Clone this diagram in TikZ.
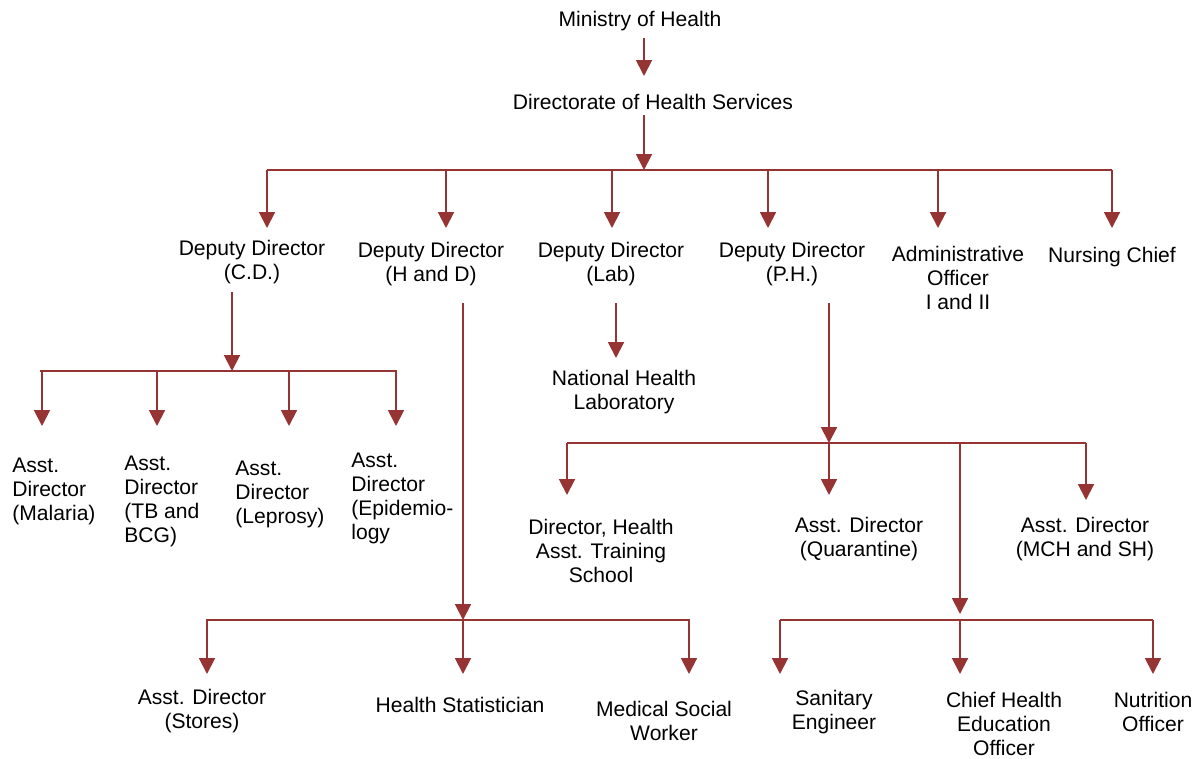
\documentclass[tikz,border=0pt]{standalone}
\usepackage{fontspec}
\setmainfont{Liberation Sans}
\usetikzlibrary{arrows.meta}
\definecolor{lnc}{RGB}{150,52,52}
\begin{document}
\begin{tikzpicture}[x=0.02cm,y=-0.02cm,
  lbl/.style={inner sep=0pt,align=center,yshift=-1.3pt,font=\fontsize{12}{13.6}\selectfont},
  lbll/.style={lbl,align=left,anchor=west},
  ln/.style={draw=lnc,line width=1.1pt},
  arr/.style={ln,-{Triangle[width=9pt,length=9pt]}}]
\useasboundingbox (0,0) rectangle (1200,758);

% nodes
\node[lbl] (moh) at (640,19) {Ministry of Health};
\node[lbl] (dhs) at (653,100) {Directorate of Health Services};
\node[lbl] (ddcd) at (252,260) {Deputy Director\\(C.D.)};
\node[lbl] (ddhd) at (431,262) {Deputy Director\\(H and D)};
\node[lbl] (ddlab) at (611,262) {Deputy Director\\(Lab)};
\node[lbl] (ddph) at (792,262) {Deputy Director\\(P.H.)};
\node[lbl] (adm) at (958,276) {Administrative\\Officer\\I and II};
\node[lbl] (nc) at (1112,255) {Nursing Chief};
\node[lbll] (mal) at (12,489) {Asst.\\Director\\(Malaria)};
\node[lbll] (tb) at (124,499) {Asst.\\Director\\(TB and\\BCG)};
\node[lbll] (lep) at (235,492) {Asst.\\Director\\(Leprosy)};
\node[lbll] (epi) at (351,496) {Asst.\\Director\\(Epidemio-\\logy};
\node[lbl] (nhl) at (624,390) {National Health\\Laboratory};
\node[lbl] (hat) at (601,549) {Director, Health\\Asst. Training\\School};
\node[lbl] (quar) at (859,537) {Asst. Director\\(Quarantine)};
\node[lbl] (mch) at (1085,537) {Asst. Director\\(MCH and SH)};
\node[lbl] (sto) at (202,709) {Asst. Director\\(Stores)};
\node[lbl] (hs) at (460,703) {Health Statistician};
\node[lbl] (msw) at (664,719) {Medical Social\\Worker};
\node[lbl] (san) at (834,710) {Sanitary\\Engineer};
\node[lbl] (che) at (1004,722) {Chief Health\\Education\\Officer};
\node[lbl] (nut) at (1153,710) {Nutrition\\Officer};

% Ministry -> Directorate
\coordinate (m0) at (644,38); \coordinate (m1) at (644,76);
\draw[arr] (m0) -- (m1);
% Directorate -> top bar
\coordinate (d0) at (644,115); \coordinate (d1) at (644,170);
\draw[arr] (d0) -- (d1);
\coordinate (tl) at (267,170); \coordinate (tr) at (1112,170);
\draw[ln] (tl) -- (tr);
\foreach \x [count=\i] in {267,446,612,768,938,1112}{
  \coordinate (ts\i) at (\x,170); \coordinate (te\i) at (\x,228);
  \draw[arr] (ts\i) -- (te\i);
}

% C.D. branch
\coordinate (c0) at (232,292); \coordinate (c1) at (232,371);
\draw[arr] (c0) -- (c1);
\coordinate (cl) at (40,371); \coordinate (cr) at (397,371);
\draw[ln] (cl) -- (cr);
\foreach \x [count=\i] in {42,157,289,396}{
  \coordinate (cs\i) at (\x,371); \coordinate (ce\i) at (\x,426);
  \draw[arr] (cs\i) -- (ce\i);
}

% H and D branch
\coordinate (h0) at (463,303); \coordinate (h1) at (463,620);
\draw[arr] (h0) -- (h1);
\coordinate (hl) at (206,620); \coordinate (hr) at (690,620);
\draw[ln] (hl) -- (hr);
\foreach \x [count=\i] in {207,463,689}{
  \coordinate (hs\i) at (\x,620); \coordinate (he\i) at (\x,674);
  \draw[arr] (hs\i) -- (he\i);
}

% Lab branch
\coordinate (l0) at (616,303); \coordinate (l1) at (616,358);
\draw[arr] (l0) -- (l1);

% P.H. branch
\coordinate (p0) at (829,303); \coordinate (p1) at (829,443);
\draw[arr] (p0) -- (p1);
\coordinate (pl) at (567,443); \coordinate (pr) at (1086,443);
\draw[ln] (pl) -- (pr);
\coordinate (ps1) at (567,443); \coordinate (pe1) at (567,495);
\coordinate (ps2) at (829,443); \coordinate (pe2) at (829,495);
\coordinate (ps3) at (1086,443); \coordinate (pe3) at (1086,500);
\draw[arr] (ps1) -- (pe1);
\draw[arr] (ps2) -- (pe2);
\draw[arr] (ps3) -- (pe3);
\coordinate (q0) at (960,443); \coordinate (q1) at (960,614);
\draw[arr] (q0) -- (q1);
\coordinate (ql) at (780,620); \coordinate (qr) at (1153,620);
\draw[ln] (ql) -- (qr);
\foreach \x [count=\i] in {780,960,1153}{
  \coordinate (qs\i) at (\x,620); \coordinate (qe\i) at (\x,674);
  \draw[arr] (qs\i) -- (qe\i);
}
\end{tikzpicture}
\end{document}
